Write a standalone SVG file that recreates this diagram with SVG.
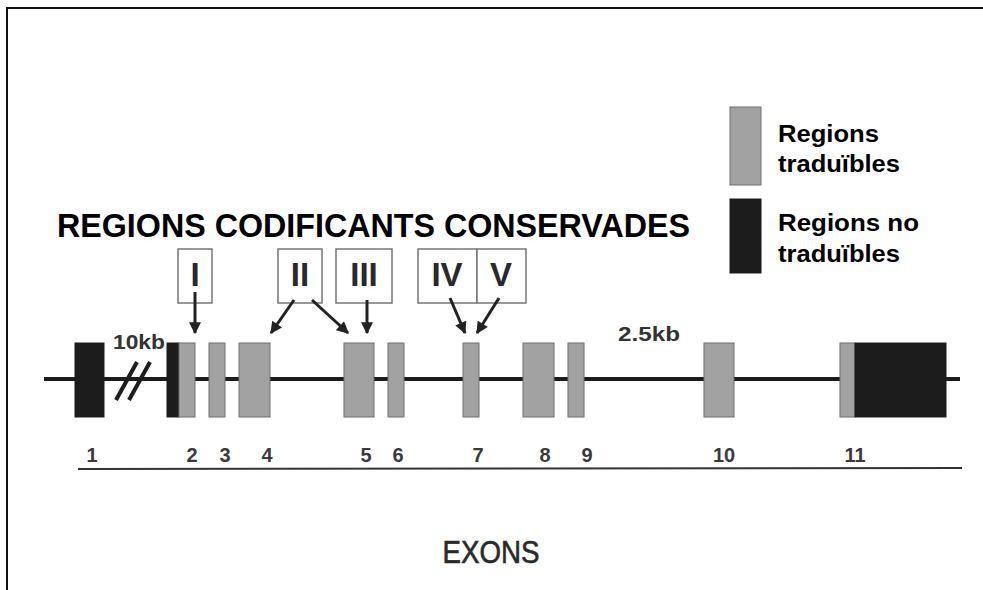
<svg xmlns="http://www.w3.org/2000/svg" width="983" height="590" viewBox="0 0 983 590">
<style>
.frame{stroke:#111;stroke-width:2;fill:none}
.grey{fill:#a2a2a2;stroke:#6e6e6e;stroke-width:1}
.black{fill:#1c1c1c;stroke:#1c1c1c;stroke-width:1}
.lbox{fill:#fff;stroke:#777;stroke-width:1.5}
.roman{font-family:"Liberation Sans",Arial,sans-serif;font-weight:bold;font-size:33px;fill:#2a2a2a;text-anchor:middle}
.num{font-family:"Liberation Sans",Arial,sans-serif;font-weight:bold;font-size:20px;fill:#3a3a3a;text-anchor:middle}
.kb{font-family:"Liberation Sans",Arial,sans-serif;font-weight:bold;font-size:21px;fill:#333}
.leg{font-family:"Liberation Sans",Arial,sans-serif;font-weight:bold;font-size:23px;fill:#000}
.title{font-family:"Liberation Sans",Arial,sans-serif;font-weight:bold;font-size:33px;fill:#000}
.arrow{stroke:#222;stroke-width:3;fill:none;marker-end:url(#ah)}
</style>
<defs>
<marker id="ah" viewBox="0 0 10 10" refX="9" refY="5" markerWidth="4.3" markerHeight="4" orient="auto" markerUnits="strokeWidth">
<path d="M0,0 L10,5 L0,10 z" fill="#222"/>
</marker>
</defs>
<rect x="0" y="0" width="983" height="590" fill="#fff"/>
<path class="frame" d="M7,590 V8 H983"/>
<g id="title"><text class="title" x="57" y="237" textLength="633" lengthAdjust="spacingAndGlyphs">REGIONS CODIFICANTS CONSERVADES</text></g>
<g id="legend">
<rect class="grey" x="730" y="107" width="31" height="78"/>
<rect class="black" x="730" y="199" width="31" height="74"/>
<text class="leg" x="778" y="142" textLength="101" lengthAdjust="spacingAndGlyphs">Regions</text>
<text class="leg" x="778" y="172" textLength="122" lengthAdjust="spacingAndGlyphs">traduïbles</text>
<text class="leg" x="778" y="231" textLength="141" lengthAdjust="spacingAndGlyphs">Regions no</text>
<text class="leg" x="778" y="262" textLength="122" lengthAdjust="spacingAndGlyphs">traduïbles</text>
</g>
<g id="gene">
<line x1="44" y1="379" x2="960" y2="379" stroke="#1c1c1c" stroke-width="4"/>
<line x1="116" y1="400" x2="137" y2="362" stroke="#1c1c1c" stroke-width="4"/>
<line x1="129" y1="400" x2="150" y2="362" stroke="#1c1c1c" stroke-width="4"/>
<text class="kb" x="113" y="349" textLength="52" lengthAdjust="spacingAndGlyphs">10kb</text>
<text class="kb" x="618" y="341" textLength="62" lengthAdjust="spacingAndGlyphs">2.5kb</text>
</g>
<g id="exon1"><rect class="black" x="75" y="343" width="29" height="74"/></g>
<g id="exon2"><rect class="black" x="167" y="343" width="12" height="74"/><rect class="grey" x="179" y="343" width="16" height="74"/></g>
<g id="exon3"><rect class="grey" x="209" y="343" width="16" height="74"/></g>
<g id="exon4"><rect class="grey" x="239" y="343" width="31" height="74"/></g>
<g id="exon5"><rect class="grey" x="344" y="343" width="30" height="74"/></g>
<g id="exon6"><rect class="grey" x="388" y="343" width="16" height="74"/></g>
<g id="exon7"><rect class="grey" x="463" y="343" width="16" height="74"/></g>
<g id="exon8"><rect class="grey" x="523" y="343" width="31" height="74"/></g>
<g id="exon9"><rect class="grey" x="568" y="343" width="16" height="74"/></g>
<g id="exon10"><rect class="grey" x="704" y="343" width="30" height="74"/></g>
<g id="exon11"><rect class="grey" x="840" y="343" width="15" height="74"/><rect class="black" x="855" y="343" width="91" height="74"/></g>
<g id="region-I"><rect class="lbox" x="178" y="249" width="34" height="54"/><text class="roman" x="195" y="286">I</text></g>
<g id="region-II"><rect class="lbox" x="278" y="249" width="44" height="54"/><text class="roman" x="300" y="286">II</text></g>
<g id="region-III"><rect class="lbox" x="336" y="249" width="56" height="54"/><text class="roman" x="364" y="286">III</text></g>
<g id="region-IV"><rect class="lbox" x="418" y="249" width="59" height="54"/><text class="roman" x="447" y="286">IV</text></g>
<g id="region-V"><rect class="lbox" x="477" y="249" width="49" height="54"/><text class="roman" x="501" y="286">V</text></g>
<g id="connectors">
<line class="arrow" x1="195" y1="292" x2="195" y2="333"/>
<line class="arrow" x1="294" y1="300" x2="271" y2="333"/>
<line class="arrow" x1="312" y1="300" x2="348" y2="333"/>
<line class="arrow" x1="367" y1="300" x2="367" y2="333"/>
<line class="arrow" x1="450" y1="298" x2="465" y2="333"/>
<line class="arrow" x1="499" y1="298" x2="477" y2="333"/>
</g>
<g id="exon-axis">
<line x1="78" y1="469" x2="962" y2="468" stroke="#333" stroke-width="2"/>
<text class="num" x="92" y="462">1</text>
<text class="num" x="192" y="462">2</text>
<text class="num" x="225" y="462">3</text>
<text class="num" x="267" y="462">4</text>
<text class="num" x="366" y="462">5</text>
<text class="num" x="398" y="462">6</text>
<text class="num" x="478" y="462">7</text>
<text class="num" x="545" y="462">8</text>
<text class="num" x="587" y="462">9</text>
<text class="num" x="724" y="462">10</text>
<text class="num" x="855" y="462">11</text>
<text x="491" y="563" text-anchor="middle" font-family="Liberation Sans, Arial, sans-serif" font-size="31" fill="#2a2a2a" stroke="#2a2a2a" stroke-width="0.6" textLength="97" lengthAdjust="spacingAndGlyphs">EXONS</text>
</g>
</svg>
